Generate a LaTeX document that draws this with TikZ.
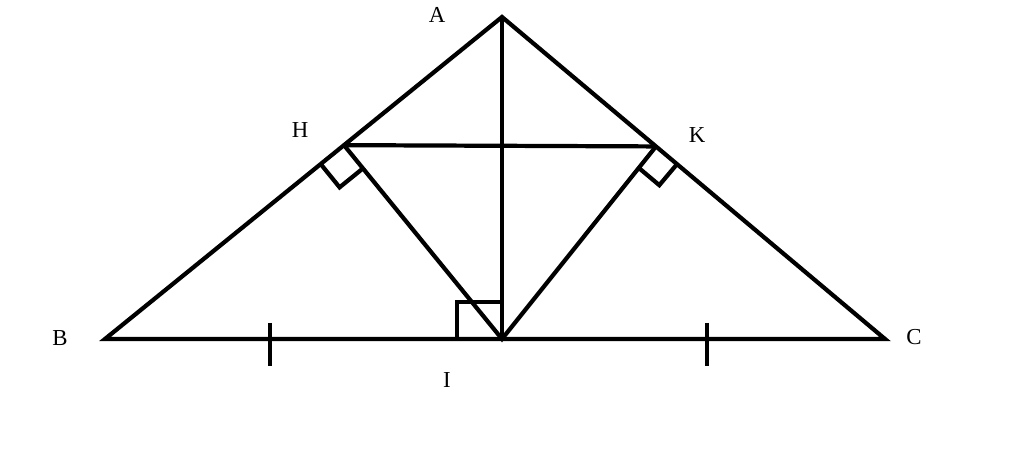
\documentclass[tikz,border=0pt]{standalone}
\usepackage{fontspec}
\setmainfont{Liberation Serif}
\usepackage{tikz}
\usetikzlibrary{calc}
\tikzset{
    side/.style={draw=black, line width=2.4pt, line join=miter},
    rightmark/.style={draw=black, line width=2.4pt},
    tick/.style={draw=black, line width=2.4pt},
    ptlabel/.style={font=\fontsize{13}{15}\selectfont},
}

\begin{document}
\begin{tikzpicture}[line width=2.4pt]
	\useasboundingbox (0,0) rectangle (20.48,9.10);
	\coordinate (A) at (10.04,8.76);
	\coordinate (B) at (2.10,2.32);
	\coordinate (C) at (17.70,2.32);
	\coordinate (I) at (10.04,2.32);
	\coordinate (H) at ($(B)!0.602!(A)$);
	\coordinate (K) at ($(C)!0.598!(A)$);
	% triangle and segments
	\draw[side] (A) -- (B) -- (C) -- cycle;
	\draw[side] (A) -- (I);
	\draw[side] (H) -- (K);
	\draw[side] (H) -- (I) -- (K);
	% right angles
	\draw[rightmark] ($(H)!0.6cm!(B)$) -- ($(H)!0.6cm!(B)!0.6cm!90:(B)$) -- ($(H)!0.6cm!(I)$);
	\draw[rightmark] ($(K)!0.55cm!(C)$) -- ($(K)!0.55cm!(C)!0.55cm!-90:(C)$) -- ($(K)!0.55cm!(I)$);
	\draw[rightmark] ($(I)+(-0.9,0)$) -- ++(0,0.74) -- ++(0.9,0);
	% equal marks
	\coordinate (t1) at (5.40,2.32);
	\coordinate (t2) at (14.14,2.32);
	\draw[tick] ($(t1)+(0,0.32)$) -- ($(t1)+(0,-0.54)$);
	\draw[tick] ($(t2)+(0,0.32)$) -- ($(t2)+(0,-0.54)$);
	% labels
	\node[ptlabel] (lA) at (8.74,8.80) {A};
	\node[ptlabel] (lH) at (6.00,6.50) {H};
	\node[ptlabel] (lK) at (13.94,6.40) {K};
	\node[ptlabel] (lB) at (1.20,2.34) {B};
	\node[ptlabel] (lC) at (18.28,2.36) {C};
	\node[ptlabel] (lI) at (8.94,1.50) {I};
\end{tikzpicture}
\end{document}
